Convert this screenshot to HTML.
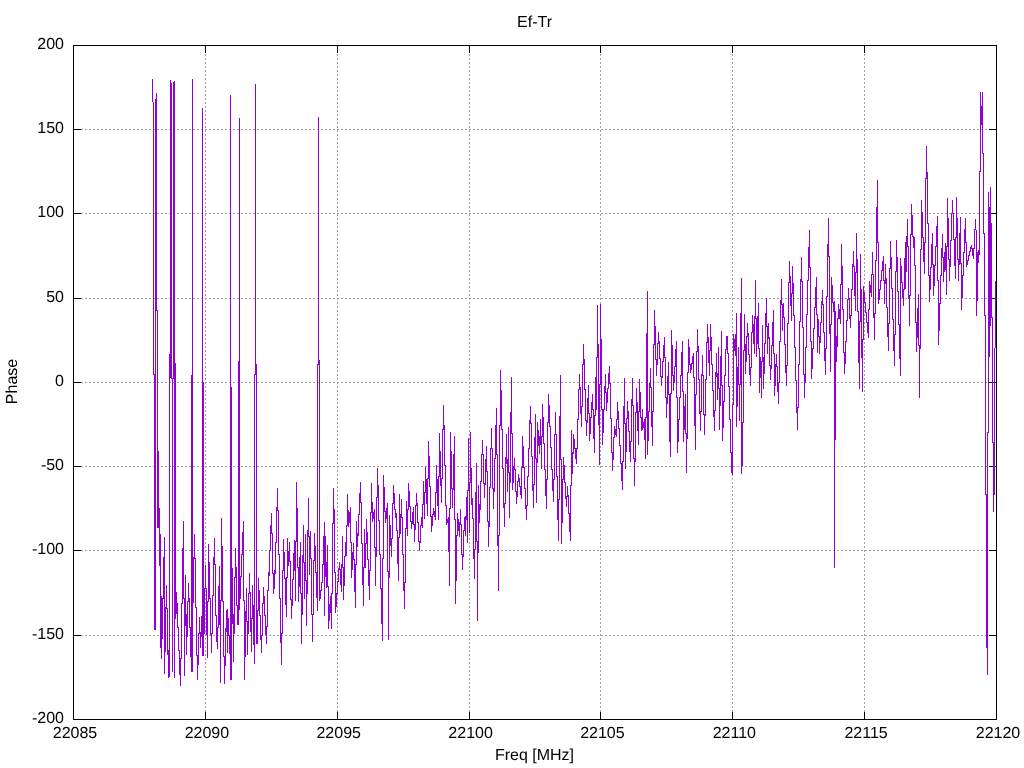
<!DOCTYPE html>
<html><head><meta charset="utf-8"><title>Ef-Tr</title>
<style>
html,body{margin:0;padding:0;background:#fff;overflow:hidden;}
svg{display:block;font-family:"Liberation Sans",sans-serif;font-size:16px;fill:#000;}
.g{stroke:#a0a0a0;stroke-width:1;stroke-dasharray:2 2;fill:none;shape-rendering:crispEdges}
.k{stroke:#000;stroke-width:1;fill:none;shape-rendering:crispEdges}
.d{stroke:#9400d3;stroke-width:1;fill:none;shape-rendering:crispEdges}
</style></head><body>
<svg width="1024" height="768" viewBox="0 0 1024 768">
<rect width="1024" height="768" fill="#fff" stroke="none"/>
<path class="g" d="M73.0 129.5H997.0"/>
<path class="g" d="M73.0 213.5H997.0"/>
<path class="g" d="M73.0 298.5H997.0"/>
<path class="g" d="M73.0 382.5H997.0"/>
<path class="g" d="M73.0 466.5H997.0"/>
<path class="g" d="M73.0 550.5H997.0"/>
<path class="g" d="M73.0 635.5H997.0"/>
<path class="g" d="M205.5 720.0V45.0"/>
<path class="g" d="M337.5 720.0V45.0"/>
<path class="g" d="M469.5 720.0V45.0"/>
<path class="g" d="M600.5 720.0V45.0"/>
<path class="g" d="M732.5 720.0V45.0"/>
<path class="g" d="M864.5 720.0V45.0"/>
<path class="k" d="M73.5 45.5h7.5M996.5 45.5h-7.5M73.5 129.5h7.5M996.5 129.5h-7.5M73.5 213.5h7.5M996.5 213.5h-7.5M73.5 298.5h7.5M996.5 298.5h-7.5M73.5 382.5h7.5M996.5 382.5h-7.5M73.5 466.5h7.5M996.5 466.5h-7.5M73.5 550.5h7.5M996.5 550.5h-7.5M73.5 635.5h7.5M996.5 635.5h-7.5M73.5 719.5h7.5M996.5 719.5h-7.5M73.5 719.5v-7.5M73.5 45.5v7.5M205.5 719.5v-7.5M205.5 45.5v7.5M337.5 719.5v-7.5M337.5 45.5v7.5M469.5 719.5v-7.5M469.5 45.5v7.5M600.5 719.5v-7.5M600.5 45.5v7.5M732.5 719.5v-7.5M732.5 45.5v7.5M864.5 719.5v-7.5M864.5 45.5v7.5M996.5 719.5v-7.5M996.5 45.5v7.5"/>
<path class="d" d="M152.5 79V102M153.5 102V375M154.5 374V630M155.5 99V630M156.5 93V311M157.5 310V528M158.5 451V528M159.5 508V566M160.5 534V648M161.5 596V659M162.5 598V639M163.5 557V599M164.5 537V674M165.5 607V652M166.5 585V609M167.5 608V655M168.5 650V678M169.5 354V677M170.5 80V378M171.5 83V379M172.5 378V672M173.5 82V379M174.5 81V678M175.5 363V619M176.5 592V614M177.5 603V628M178.5 627V651M179.5 650V675M180.5 658V686M181.5 603V659M182.5 548V604M183.5 521V599M184.5 598V676M185.5 575V626M186.5 614V655M187.5 601V637M188.5 583V602M189.5 598V628M190.5 627V657M191.5 375V672M192.5 79V672M193.5 557V603M194.5 534V559M195.5 558V608M196.5 607V656M197.5 655V680M198.5 633V665M199.5 617V634M200.5 632V648M201.5 616V637M202.5 108V656M203.5 382V656M204.5 588V634M205.5 565V589M206.5 588V635M207.5 601V658M208.5 544V602M209.5 562V599M210.5 598V635M211.5 633V653M212.5 595V634M213.5 557V596M214.5 538V565M215.5 564V616M216.5 615V642M217.5 627V649M218.5 586V628M219.5 566V625M220.5 600V683M221.5 518V601M222.5 546V602M223.5 601V657M224.5 656V684M225.5 628V666M226.5 610V632M227.5 609V653M228.5 618V636M229.5 635V654M230.5 95V680M231.5 387V680M232.5 568V624M233.5 614V662M234.5 577V634M235.5 548V578M236.5 567V606M237.5 605V625M238.5 361V625M239.5 118V610M240.5 576V599M241.5 554V577M242.5 532V555M243.5 521V601M244.5 600V680M245.5 611V657M246.5 588V622M247.5 621V655M248.5 593V634M249.5 573V594M250.5 592V632M251.5 618V652M252.5 585V619M253.5 605V645M254.5 374V664M255.5 84V375M256.5 364V644M257.5 610V644M258.5 578V611M259.5 590V616M260.5 615V640M261.5 635V653M262.5 603V636M263.5 587V604M264.5 596V616M265.5 615V635M266.5 626V644M267.5 590V627M268.5 572V591M269.5 550V576M270.5 525V551M271.5 513V534M272.5 533V574M273.5 573V594M274.5 570V589M275.5 542V574M276.5 507V543M277.5 488V511M278.5 510V555M279.5 554V599M280.5 598V643M281.5 633V665M282.5 570V634M283.5 539V571M284.5 552V579M285.5 578V605M286.5 577V617M287.5 538V578M288.5 551V566M289.5 542V562M290.5 561V600M291.5 599V619M292.5 579V606M293.5 553V580M294.5 540V571M295.5 541V601M296.5 482V542M297.5 508V568M298.5 567V602M299.5 557V587M300.5 542V594M301.5 593V644M302.5 555V615M303.5 525V563M304.5 562V599M305.5 534V581M306.5 580V626M307.5 530V594M308.5 498V537M309.5 536V575M310.5 531V559M311.5 558V615M312.5 614V642M313.5 560V615M314.5 533V561M315.5 546V573M316.5 572V598M317.5 364V611M318.5 117V365M319.5 360V601M320.5 590V599M321.5 582V591M322.5 564V583M323.5 536V565M324.5 522V616M325.5 536V577M326.5 562V588M327.5 545V587M328.5 586V629M329.5 604V621M330.5 596V613M331.5 593V629M332.5 523V594M333.5 488V524M334.5 509V573M335.5 572V613M336.5 593V607M337.5 581V594M338.5 568V582M339.5 562V570M340.5 569V585M341.5 564V592M342.5 536V568M343.5 567V600M344.5 556V586M345.5 542V557M346.5 525V556M347.5 494V526M348.5 510V527M349.5 512V523M350.5 507V543M351.5 542V578M352.5 552V570M353.5 543V560M354.5 559V592M355.5 564V608M356.5 521V565M357.5 533V547M358.5 514V536M359.5 493V515M360.5 482V503M361.5 502V544M362.5 543V585M363.5 567V606M364.5 529V568M365.5 543V568M366.5 519V544M367.5 532V560M368.5 559V586M369.5 570V600M370.5 512V571M371.5 483V513M372.5 502V522M373.5 512V519M374.5 509V548M375.5 547V586M376.5 497V557M377.5 468V498M378.5 485V521M379.5 520V555M380.5 554V589M381.5 588V624M382.5 558V641M383.5 475V559M384.5 487V512M385.5 511V523M386.5 508V519M387.5 503V572M388.5 571V640M389.5 515V578M390.5 525V546M391.5 538V557M392.5 503V539M393.5 485V504M394.5 493V510M395.5 509V518M396.5 513V531M397.5 530V564M398.5 537V581M399.5 494V538M400.5 514V534M401.5 499V518M402.5 517V555M403.5 554V591M404.5 582V609M405.5 528V583M406.5 501V529M407.5 509V536M408.5 483V510M409.5 491V507M410.5 506V522M411.5 521V529M412.5 512V524M413.5 507V525M414.5 524V542M415.5 505V530M416.5 493V506M417.5 503V523M418.5 522V542M419.5 541V551M420.5 525V543M421.5 517V526M422.5 504V528M423.5 481V505M424.5 492V519M425.5 467V493M426.5 479V504M427.5 478V516M428.5 441V479M429.5 456V487M430.5 486V517M431.5 516V532M432.5 514V526M433.5 508V515M434.5 511V517M435.5 492V520M436.5 465V493M437.5 479V506M438.5 476V520M439.5 433V477M440.5 451V486M441.5 478V503M442.5 429V479M443.5 405V430M444.5 425V466M445.5 465V506M446.5 505V525M447.5 519V523M448.5 517V552M449.5 508V586M450.5 432V509M451.5 451V489M452.5 488V508M453.5 454V490M454.5 436V520M455.5 519V604M456.5 535V581M457.5 513V536M458.5 519V531M459.5 522V537M460.5 509V525M461.5 524V555M462.5 554V570M463.5 530V557M464.5 517V531M465.5 516V536M466.5 497V520M467.5 490V543M468.5 438V491M469.5 482V533M470.5 432V483M471.5 468V505M472.5 498V519M473.5 518V559M474.5 549V579M475.5 492V550M476.5 463V542M477.5 541V621M478.5 485V553M479.5 504V523M480.5 481V510M481.5 454V482M482.5 440V455M483.5 454V484M484.5 483V498M485.5 459V485M486.5 446V472M487.5 471V522M488.5 521V547M489.5 487V527M490.5 448V488M491.5 428V449M492.5 448V489M493.5 488V509M494.5 458V492M495.5 425V459M496.5 408V455M497.5 454V546M498.5 535V591M499.5 425V536M500.5 370V426M501.5 390V430M502.5 429V469M503.5 468V508M504.5 503V527M505.5 457V504M506.5 434V464M507.5 459V492M508.5 427V473M509.5 472V518M510.5 412V483M511.5 377V434M512.5 433V490M513.5 466V483M514.5 458V470M515.5 469V492M516.5 491V504M517.5 481V497M518.5 474V482M519.5 478V487M520.5 486V495M521.5 467V499M522.5 436V468M523.5 446V468M524.5 467V489M525.5 488V509M526.5 505V520M527.5 476V506M528.5 448V477M529.5 420V449M530.5 406V424M531.5 423V457M532.5 456V491M533.5 484V508M534.5 437V485M535.5 414V459M536.5 458V503M537.5 422V463M538.5 430V446M539.5 436V454M540.5 419V445M541.5 436V469M542.5 404V437M543.5 417V444M544.5 443V470M545.5 469V496M546.5 479V509M547.5 422V480M548.5 394V423M549.5 405V427M550.5 426V448M551.5 447V470M552.5 469V491M553.5 479V502M554.5 434V480M555.5 412V435M556.5 434V477M557.5 476V520M558.5 499V541M559.5 416V500M560.5 375V460M561.5 459V544M562.5 479V523M563.5 457V480M564.5 465V483M565.5 482V499M566.5 496V507M567.5 486V497M568.5 495V514M569.5 513V532M570.5 485V541M571.5 430V486M572.5 452V474M573.5 434V454M574.5 439V449M575.5 448V459M576.5 448V464M577.5 419V449M578.5 389V420M579.5 374V390M580.5 387V414M581.5 406V427M582.5 364V407M583.5 344V365M584.5 359V390M585.5 389V421M586.5 420V436M587.5 398V423M588.5 385V414M589.5 413V441M590.5 417V434M591.5 402V418M592.5 394V410M593.5 409V439M594.5 415V453M595.5 377V416M596.5 357V410M597.5 305V358M598.5 344V425M599.5 384V465M600.5 304V385M601.5 339V410M602.5 409V445M603.5 409V433M604.5 386V410M605.5 374V393M606.5 392V411M607.5 388V403M608.5 373V389M609.5 366V384M610.5 383V419M611.5 418V453M612.5 452V471M613.5 437V460M614.5 426V438M615.5 429V435M616.5 419V437M617.5 402V420M618.5 411V429M619.5 428V446M620.5 445V464M621.5 463V481M622.5 461V490M623.5 406V462M624.5 378V424M625.5 423V469M626.5 418V452M627.5 401V419M628.5 411V432M629.5 431V452M630.5 441V462M631.5 399V442M632.5 378V406M633.5 405V459M634.5 458V486M635.5 412V462M636.5 388V413M637.5 402V431M638.5 411V445M639.5 379V412M640.5 392V418M641.5 417V431M642.5 409V430M643.5 422V428M644.5 419V440M645.5 417V459M646.5 333V418M647.5 291V455M648.5 411V441M649.5 383V412M650.5 368V388M651.5 387V427M652.5 411V446M653.5 344V412M654.5 310V345M655.5 326V360M656.5 359V376M657.5 343V365M658.5 332V344M659.5 341V359M660.5 358V377M661.5 376V386M662.5 361V378M663.5 345V362M664.5 337V358M665.5 357V398M666.5 397V418M667.5 376V404M668.5 362V395M669.5 394V442M670.5 393V457M671.5 330V394M672.5 345V376M673.5 375V391M674.5 366V383M675.5 349V367M676.5 341V398M677.5 397V453M678.5 419V442M679.5 397V420M680.5 375V398M681.5 352V376M682.5 341V392M683.5 391V442M684.5 406V430M685.5 394V434M686.5 433V473M687.5 372V439M688.5 339V373M689.5 347V365M690.5 364V373M691.5 363V370M692.5 356V364M693.5 353V378M694.5 377V426M695.5 394V450M696.5 351V395M697.5 329V352M698.5 346V380M699.5 379V414M700.5 411V431M701.5 374V412M702.5 355V376M703.5 375V415M704.5 414V435M705.5 379V416M706.5 342V380M707.5 324V343M708.5 337V363M709.5 350V376M710.5 324V351M711.5 337V365M712.5 364V391M713.5 390V417M714.5 410V431M715.5 372V411M716.5 353V377M717.5 373V400M718.5 347V389M719.5 388V430M720.5 356V406M721.5 331V386M722.5 385V441M723.5 401V428M724.5 375V402M725.5 349V376M726.5 336V350M727.5 336V354M728.5 353V387M729.5 386V420M730.5 419V453M731.5 452V473M732.5 404V475M733.5 334V405M734.5 339V351M735.5 334V356M736.5 313V427M737.5 367V407M738.5 347V385M739.5 384V421M740.5 313V385M741.5 278V474M742.5 422V466M743.5 350V423M744.5 314V351M745.5 344V374M746.5 336V362M747.5 323V337M748.5 333V355M749.5 354V375M750.5 367V386M751.5 332V368M752.5 315V333M753.5 324V344M754.5 316V354M755.5 280V319M756.5 318V357M757.5 316V344M758.5 303V349M759.5 348V393M760.5 357V378M761.5 361V398M762.5 325V362M763.5 357V389M764.5 343V374M765.5 313V344M766.5 298V327M767.5 326V354M768.5 323V339M769.5 337V366M770.5 365V380M771.5 345V369M772.5 322V346M773.5 310V354M774.5 353V396M775.5 364V386M776.5 354V367M777.5 366V392M778.5 382V404M779.5 341V383M780.5 300V342M781.5 279V305M782.5 304V331M783.5 303V318M784.5 317V345M785.5 344V373M786.5 365V386M787.5 323V366M788.5 282V324M789.5 261V283M790.5 276V306M791.5 293V321M792.5 266V294M793.5 283V316M794.5 315V348M795.5 347V381M796.5 380V413M797.5 407V430M798.5 364V408M799.5 321V365M800.5 279V322M801.5 257V282M802.5 281V328M803.5 327V375M804.5 374V398M805.5 347V382M806.5 314V348M807.5 280V315M808.5 247V281M809.5 230V268M810.5 267V342M811.5 341V379M812.5 348V369M813.5 328V349M814.5 307V329M815.5 287V308M816.5 277V315M817.5 314V353M818.5 319V337M819.5 336V354M820.5 322V343M821.5 301V323M822.5 290V305M823.5 304V333M824.5 332V361M825.5 348V375M826.5 296V349M827.5 244V297M828.5 218V257M829.5 256V334M830.5 324V372M831.5 277V325M832.5 285V303M833.5 302V312M834.5 301V568M835.5 311V440M836.5 336V362M837.5 318V347M838.5 304V319M839.5 309V319M840.5 284V324M841.5 244V285M842.5 266V310M843.5 309V353M844.5 352V374M845.5 341V364M846.5 320V342M847.5 299V321M848.5 288V300M849.5 298V319M850.5 315V328M851.5 289V316M852.5 264V290M853.5 251V267M854.5 266V296M855.5 272V311M856.5 233V273M857.5 259V312M858.5 311V363M859.5 321V389M860.5 254V322M861.5 289V358M862.5 339V392M863.5 286V340M864.5 292V303M865.5 302V313M866.5 312V323M867.5 322V333M868.5 309V338M869.5 281V310M870.5 285V293M871.5 274V297M872.5 252V275M873.5 274V318M874.5 313V340M875.5 260V314M876.5 207V261M877.5 180V243M878.5 242V304M879.5 289V300M880.5 280V290M881.5 270V281M882.5 261V271M883.5 256V281M884.5 280V304M885.5 264V284M886.5 278V308M887.5 307V337M888.5 323V351M889.5 268V324M890.5 241V269M891.5 257V289M892.5 288V320M893.5 319V351M894.5 334V366M895.5 271V335M896.5 240V272M897.5 257V292M898.5 291V325M899.5 324V359M900.5 258V376M901.5 266V283M902.5 282V298M903.5 289V306M904.5 258V290M905.5 242V289M906.5 236V272M907.5 219V247M908.5 246V299M909.5 295V326M910.5 234V296M911.5 204V235M912.5 215V237M913.5 236V248M914.5 237V266M915.5 265V323M916.5 322V352M917.5 308V338M918.5 294V346M919.5 345V398M920.5 249V349M921.5 200V250M922.5 212V238M923.5 237V262M924.5 242V274M925.5 178V243M926.5 146V179M927.5 172V224M928.5 223V276M929.5 275V302M930.5 267V290M931.5 244V268M932.5 233V265M933.5 264V296M934.5 265V286M935.5 246V266M936.5 226V247M937.5 216V281M938.5 280V345M939.5 303V331M940.5 275V304M941.5 248V276M942.5 234V258M943.5 257V282M944.5 252V272M945.5 243V270M946.5 246V295M947.5 198V247M948.5 218V260M949.5 259V281M950.5 240V267M951.5 213V241M952.5 200V214M953.5 213V240M954.5 239V266M955.5 237V279M956.5 197V238M957.5 218V260M958.5 259V281M959.5 233V265M960.5 217V264M961.5 263V310M962.5 275V298M963.5 252V276M964.5 229V253M965.5 218V243M966.5 242V267M967.5 260V265M968.5 255V261M969.5 251V256M970.5 247V252M971.5 245V249M972.5 248V256M973.5 248V259M974.5 229V249M975.5 219V230M976.5 230V316M977.5 252V301M978.5 250V263M979.5 171V255M980.5 92V172M981.5 106V125M982.5 92V154M983.5 153V234M984.5 233V316M985.5 315V495M986.5 494V648M987.5 432V675M988.5 192V433M989.5 207V357M990.5 187V326M991.5 223V318M992.5 317V443M993.5 442V512M994.5 348V495M995.5 281V348"/>
<path class="k" d="M73.5 45.5H996.5V719.5H73.5Z"/>
<text transform="translate(64,49) rotate(0.05)" text-anchor="end">200</text>
<text transform="translate(64,133) rotate(0.05)" text-anchor="end">150</text>
<text transform="translate(64,217) rotate(0.05)" text-anchor="end">100</text>
<text transform="translate(64,302) rotate(0.05)" text-anchor="end">50</text>
<text transform="translate(64,386) rotate(0.05)" text-anchor="end">0</text>
<text transform="translate(64,470) rotate(0.05)" text-anchor="end">-50</text>
<text transform="translate(64,554) rotate(0.05)" text-anchor="end">-100</text>
<text transform="translate(64,639) rotate(0.05)" text-anchor="end">-150</text>
<text transform="translate(64,723) rotate(0.05)" text-anchor="end">-200</text>
<text transform="translate(75.0,738) rotate(0.05)" text-anchor="middle">22085</text>
<text transform="translate(206.9,738) rotate(0.05)" text-anchor="middle">22090</text>
<text transform="translate(338.7,738) rotate(0.05)" text-anchor="middle">22095</text>
<text transform="translate(470.6,738) rotate(0.05)" text-anchor="middle">22100</text>
<text transform="translate(602.4,738) rotate(0.05)" text-anchor="middle">22105</text>
<text transform="translate(734.3,738) rotate(0.05)" text-anchor="middle">22110</text>
<text transform="translate(866.1,738) rotate(0.05)" text-anchor="middle">22115</text>
<text transform="translate(998.0,738) rotate(0.05)" text-anchor="middle">22120</text>
<text transform="translate(534.5,27) rotate(0.05)" text-anchor="middle">Ef-Tr</text>
<text transform="translate(534.5,760) rotate(0.05)" text-anchor="middle">Freq [MHz]</text>
<text transform="translate(17,381.5) rotate(-89.95)" text-anchor="middle">Phase</text>
</svg></body></html>
